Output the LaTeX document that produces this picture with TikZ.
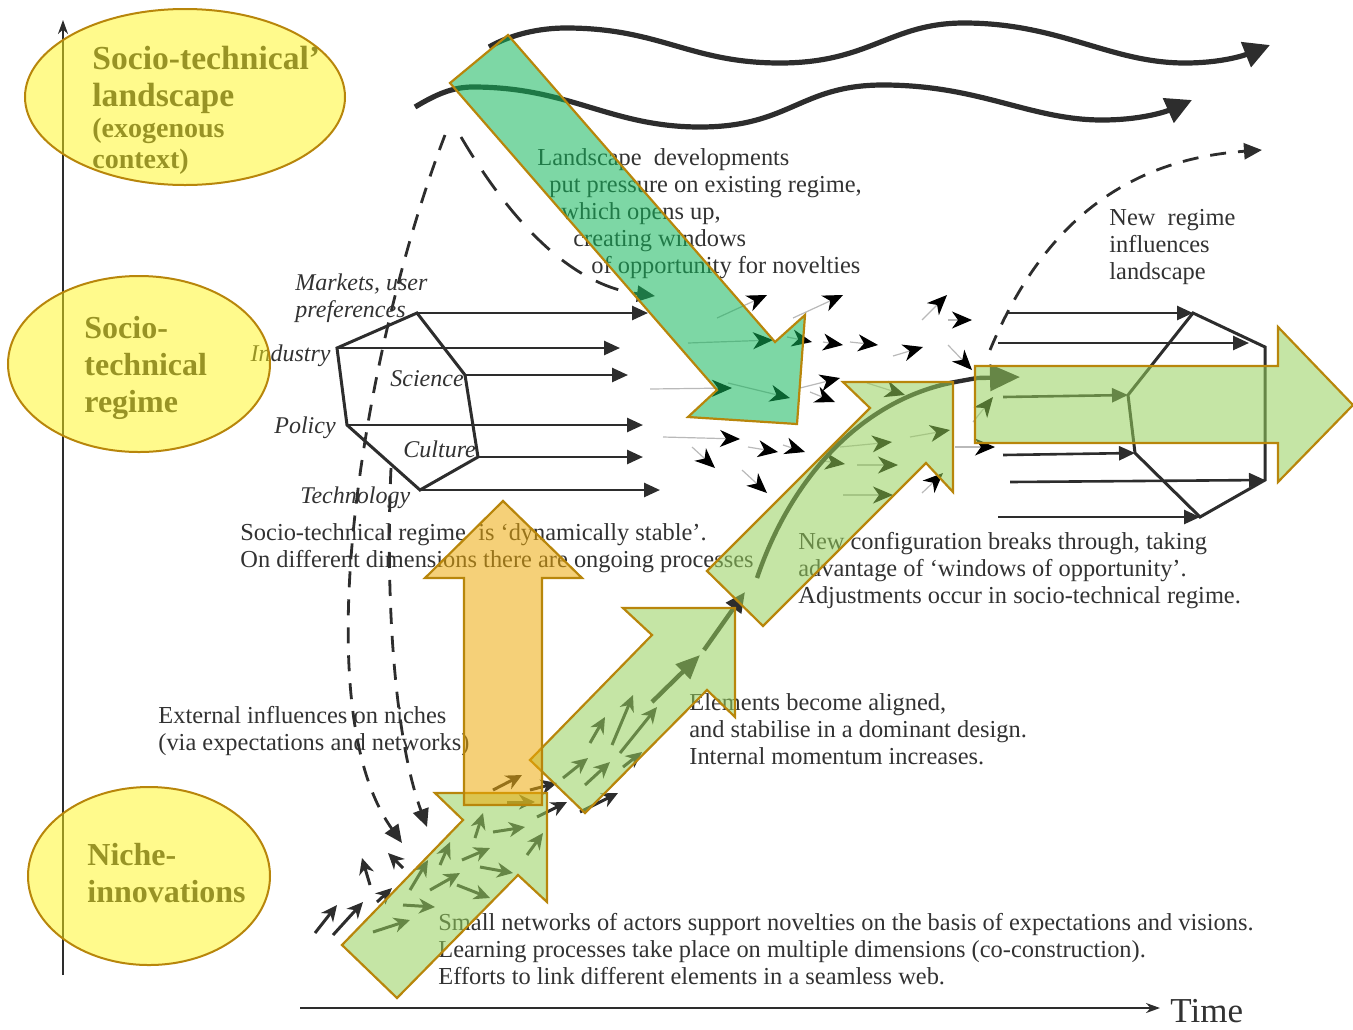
\documentclass[tikz,border=0pt]{standalone}
\usepackage{fontspec}
\setmainfont{Liberation Serif}
\usetikzlibrary{arrows.meta}

\definecolor{txtgray}{RGB}{50,50,50}
\definecolor{linegray}{RGB}{45,45,45}
\definecolor{goldedge}{RGB}{184,134,11}
\definecolor{lvlyellow}{RGB}{255,245,25}
\definecolor{nichegreen}{RGB}{150,208,91}
\definecolor{pressgreen}{RGB}{19,182,91}
\definecolor{upamber}{RGB}{237,170,9}

\begin{document}
\begin{tikzpicture}[x=0.5pt, y=-0.5pt,
    timeaxis/.style={draw=linegray, line width=1pt, -{Stealth[length=7pt,width=5pt]}},
    wave/.style={draw=linegray, line width=2.6pt, -{Triangle[length=13pt,width=13pt]}},
    infl/.style={draw=linegray, line width=1.4pt, dash pattern=on 8pt off 6pt, -{Triangle[length=9pt,width=8pt]}},
    hexline/.style={draw=linegray, line width=1.5pt, line join=miter},
    dimarrow/.style={draw=linegray, line width=1.3pt, -{Triangle[length=8pt,width=7pt]}},
    flow/.style={draw=gray!55, line width=0.6pt, -{Stealth[length=10pt,width=8.5pt,inset=3pt,color=black]}},
    nflow/.style={draw=linegray, line width=1.5pt, -{Stealth[length=8pt,width=7.5pt,inset=2.5pt]}},
    traj/.style={draw=linegray, line width=2.2pt},
    lvl/.style={fill=lvlyellow, fill opacity=0.5, draw=goldedge, line width=1pt},
    lvltext/.style={font=\bfseries\fontsize{16}{18.3}\selectfont, text=txtgray, align=left, inner sep=0pt, anchor=base west},
    dim/.style={font=\itshape\fontsize{12}{13.5}\selectfont, text=txtgray, inner sep=0pt, anchor=base west},
    note/.style={font=\fontsize{12.2}{13.5}\selectfont, text=txtgray, align=left, inner sep=0pt, anchor=base west},
    block/.style={fill=#1, fill opacity=0.55, draw=goldedge, line width=1.1pt, line join=miter}
]
    \useasboundingbox (0,0) rectangle (1353,1029);

    % Axes
    \coordinate (ybot) at (63,975);
    \coordinate (ytop) at (63,20);
    \coordinate (xleft) at (300,1008);
    \coordinate (xright) at (1160,1008);
    \node[anchor=base west, inner sep=0pt, text=txtgray, font=\fontsize{17.5}{20}\selectfont] (time) at (1170,1022) {Time};
    \draw[timeaxis] (ybot) -- (ytop);
    \draw[timeaxis] (xleft) -- (xright);

    % Landscape waves
    \draw[wave] (489,47) .. controls (512,34) and (540,28) .. (566,28) .. controls (660,28) and (690,63) .. (780,63)
        .. controls (870,63) and (890,23) .. (964,23) .. controls (1060,23) and (1110,63) .. (1185,63)
        .. controls (1222,63) and (1245,55) .. (1270,45);
    \draw[wave] (415,107) .. controls (435,95) and (452,87) .. (473,87) .. controls (570,87) and (610,127) .. (700,127)
        .. controls (790,127) and (800,85) .. (883,85) .. controls (980,85) and (1030,120) .. (1102,120)
        .. controls (1140,120) and (1165,112) .. (1192,100);

    % Dashed influences
    \draw[infl, dash pattern=on 12pt off 8pt] (461,137) .. controls (510,220) and (570,285) .. (655,296);
    \draw[infl] (445,135) .. controls (370,330) and (300,700) .. (402,843);
    \draw[infl] (391,468) .. controls (385,600) and (395,740) .. (427,827);
    \draw[infl] (990,350) .. controls (1040,230) and (1120,160) .. (1262,150);

    % Regime hexagon
    \coordinate (hL) at (337,348);
    \coordinate (hT) at (417,313);
    \coordinate (hUR) at (465,375);
    \coordinate (hLR) at (478,457);
    \coordinate (hB) at (420,490);
    \coordinate (hLL) at (347,425);
    \draw[hexline] (hL) -- (hT) -- (hUR) -- (hLR) -- (hB) -- (hLL) -- cycle;
    \draw[dimarrow] (hT) -- ++(231,0);
    \draw[dimarrow] (hL) -- ++(283,0);
    \draw[dimarrow] (hUR) -- ++(163,0);
    \draw[dimarrow] (hLL) -- ++(296,0);
    \draw[dimarrow] (hLR) -- ++(165,0);
    \draw[dimarrow] (hB) -- ++(240,0);

    \node[dim, align=left] (markets) at (295,317) {Markets, user\\preferences};
    \node[dim, anchor=base east] (industry) at (331,361) {Industry};
    \node[dim] (science) at (390,386) {Science};
    \node[dim] (policy) at (274,433) {Policy};
    \node[dim] (culture) at (403,457) {Culture};
    \node[dim] (technology) at (300,503) {Technology};

    % New regime hexagon
    \coordinate (nL) at (1128,395);
    \coordinate (nT) at (1193,313);
    \coordinate (nUR) at (1265,347);
    \coordinate (nLR) at (1265,480);
    \coordinate (nB) at (1200,517);
    \coordinate (nLL) at (1135,453);
    \draw[hexline] (nL) -- (nT) -- (nUR) -- (nLR) -- (nB) -- (nLL) -- cycle;
    \draw[dimarrow] (1007,313) -- (nT);
    \draw[dimarrow] (998,343) -- (1249,343);
    \draw[dimarrow] (1003,397) -- (nL);
    \draw[dimarrow] (1003,455) -- (nLL);
    \draw[dimarrow] (1010,482) -- (nLR);
    \draw[dimarrow] (998,517) -- (nB);

    % Loose regime dynamics
    \foreach \xa/\ya/\xb/\yb in {717/318/767/295, 793/318/843/295, 787/337/812/342, 823/342/843/345,
        850/342/878/345, 893/356/923/347, 922/320/947/295, 948/320/972/320, 948/345/972/370,
        800/388/840/378, 810/392/835/402, 663/437/740/439, 748/447/778/452, 783/445/805/452,
        692/447/715/468, 742/470/767/493, 922/493/943/473, 955/447/995/447, 688/343/773/340,
        650/389/732/388, 728/383/790/398, 867/383/905/395, 840/447/892/442, 910/437/950/430,
        817/460/845/464, 857/465/898/465, 843/495/893/495, 973/422/993/397}
        \draw[flow] (\xa,\ya) -- (\xb,\yb);

    % Niche activity
    \foreach \xa/\ya/\xb/\yb in {315/933/337/905, 333/935/363/902, 377/902/392/888, 370/885/362/858,
        403/868/388/853, 493/790/522/775, 530/790/557/783, 537/817/567/802, 580/812/618/793,
        623/767/642/752, 373/932/410/920, 403/905/435/907, 430/890/460/873, 457/885/490/898,
        480/867/513/873, 462/860/490/848, 410/890/428/860, 440/865/450/842, 475/838/483/813,
        493/832/525/827, 527/855/543/833, 507/802/535/802, 563/778/588/758, 585/785/610/762,
        590/743/605/717, 612/745/633/695, 620/753/657/707}
        \draw[nflow] (\xa,\ya) -- (\xb,\yb);

    % Trajectory
    \draw[traj, -{Triangle[length=12pt,width=10pt]}] (652,702) -- (700,655);
    \draw[traj, -{Triangle[length=10pt,width=9pt]}] (704,650) -- (745,592);
    \draw[traj] (757,578) .. controls (790,480) and (860,400) .. (955,382) -- (977,378);
    \draw[traj, -{Triangle[length=15pt,width=13pt]}] (977,378) -- (1020,377);

    % Explanations
    \node[note] (landtxt) at (537,273) {Landscape\ \ developments\\\hspace*{6pt}put pressure on existing regime,\\\hspace*{12pt}which opens up,\\\hspace*{18pt}creating windows\\\hspace*{27pt}of opportunity for novelties};
    \node[note] (newregtxt) at (1109,279) {New\ \ regime\\influences\\landscape};
    \node[note] (stabletxt) at (240,567) {Socio-technical regime\ \ is ‘dynamically stable’.\\On different dimensions there are ongoing processes};
    \node[note] (breaktxt) at (798,603) {New configuration breaks through, taking\\advantage of ‘windows of opportunity’.\\Adjustments occur in socio-technical regime.};
    \node[note] (aligntxt) at (689,764) {Elements become aligned,\\and stabilise in a dominant design.\\Internal momentum increases.};
    \node[note] (exttxt) at (158,750) {External influences on niches\\(via expectations and networks)};
    \node[note] (smalltxt) at (438,984) {Small networks of actors support novelties on the basis of expectations and visions.\\Learning processes take place on multiple dimensions (co-construction).\\Efforts to link different elements in a seamless web.};

    % Levels
    \node[lvltext, font=\bfseries\fontsize{16.8}{18.3}\selectfont] (landA) at (92,106) {Socio-technical’\\landscape};
    \node[lvltext, font=\bfseries\fontsize{14}{15.5}\selectfont] (landB) at (92,168) {(exogenous\\context)};
    \node[lvltext] (regA) at (84,412) {Socio-\\technical\\regime};
    \node[lvltext] (nicheA) at (87,902) {Niche-\\innovations};
    \draw[lvl] (185,97) ellipse [x radius=160, y radius=88];
    \draw[lvl] (139,364) ellipse [x radius=131, y radius=88];
    \draw[lvl] (149,876) ellipse [x radius=121, y radius=89];

    % Block arrows
    \draw[block=nichegreen] (397,998) -- (342,945) -- (463,820) -- (435,793) -- (547,793) -- (547,902) -- (518,875) -- cycle;
    \draw[block=nichegreen] (530,760) -- (652,635) -- (623,608) -- (735,608) -- (735,717) -- (707,690) -- (585,813) -- cycle;
    \draw[block=nichegreen] (707,571) -- (870,408) -- (843,382) -- (953,382) -- (953,492) -- (926,463) -- (763,626) -- cycle;
    \draw[block=nichegreen] (975,366) -- (1278,366) -- (1278,327) -- (1353,405) -- (1278,482) -- (1278,443) -- (975,443) -- cycle;
    \draw[block=upamber] (464,805) -- (464,578) -- (425,578) -- (503,501) -- (582,578) -- (542,578) -- (542,805) -- cycle;
    \draw[block=pressgreen] (508,35) -- (775,342) -- (805,315) -- (797,424) -- (688,417) -- (717,390) -- (450,83) -- cycle;
\end{tikzpicture}
\end{document}
